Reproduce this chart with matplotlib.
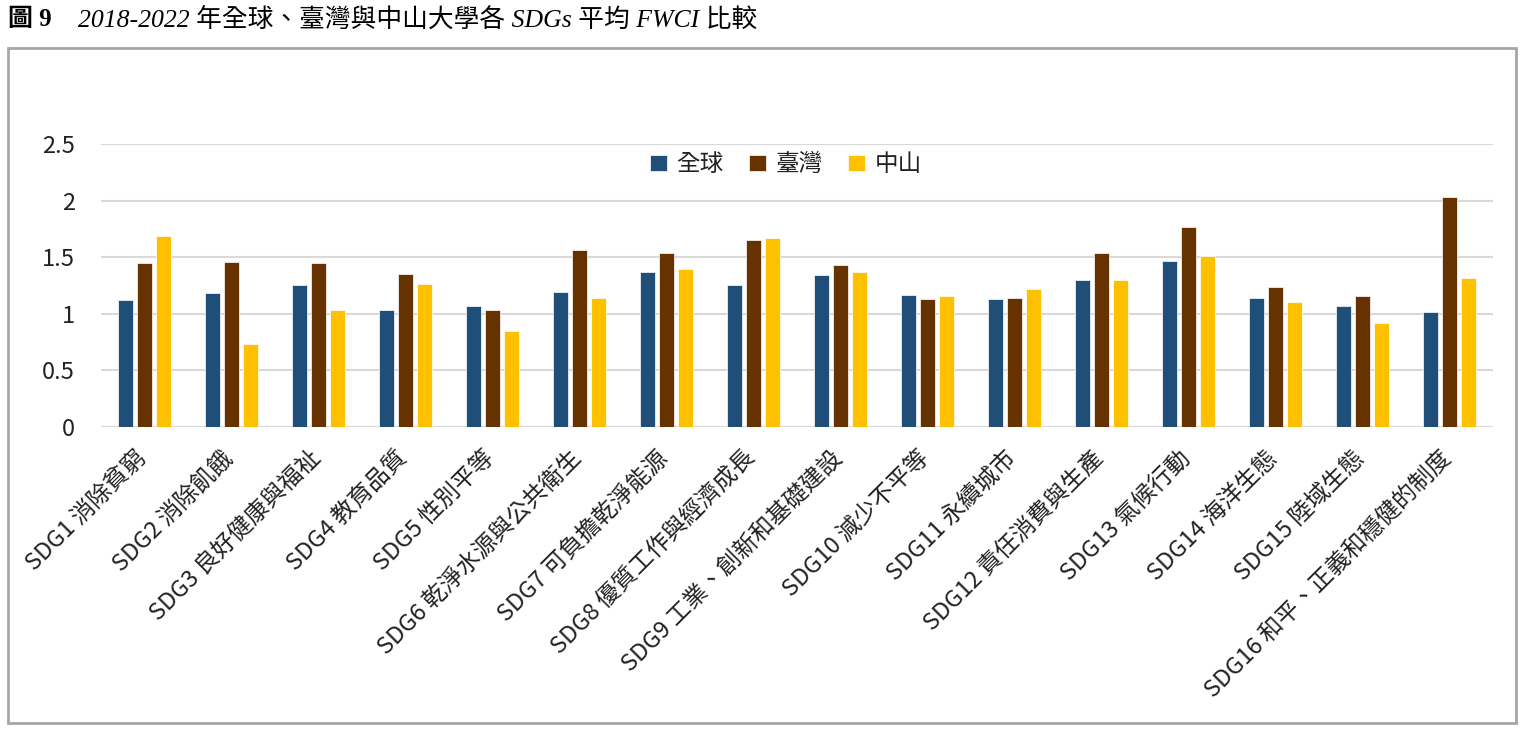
import numpy as np
import matplotlib
matplotlib.use("Agg")
from matplotlib import pyplot as plt
from matplotlib.patches import Rectangle
from matplotlib.transforms import ScaledTranslation

plt.rcParams["font.family"] = ["Noto Sans CJK TC", "DejaVu Sans"]

categories = [
    "SDG1 消除貧窮",
    "SDG2 消除飢餓",
    "SDG3 良好健康與福祉",
    "SDG4 教育品質",
    "SDG5 性別平等",
    "SDG6 乾淨水源與公共衛生",
    "SDG7 可負擔乾淨能源",
    "SDG8 優質工作與經濟成長",
    "SDG9 工業、創新和基礎建設",
    "SDG10 減少不平等",
    "SDG11 永續城市",
    "SDG12 責任消費與生產",
    "SDG13 氣候行動",
    "SDG14 海洋生態",
    "SDG15 陸域生態",
    "SDG16 和平、正義和穩健的制度",
]
series_names = ["全球", "臺灣", "中山"]
world = [1.12, 1.18, 1.25, 1.03, 1.07, 1.19, 1.37, 1.25, 1.34, 1.17, 1.13, 1.30, 1.47, 1.14, 1.07, 1.02]
taiwan = [1.45, 1.46, 1.45, 1.35, 1.03, 1.56, 1.54, 1.65, 1.43, 1.13, 1.14, 1.54, 1.77, 1.24, 1.16, 2.03]
nsysu = [1.69, 0.73, 1.03, 1.26, 0.85, 1.14, 1.40, 1.67, 1.37, 1.16, 1.22, 1.30, 1.51, 1.10, 0.92, 1.32]
yticks = [0, 0.5, 1, 1.5, 2, 2.5]
ytick_labels = ["0", "0.5", "1", "1.5", "2", "2.5"]
title_num = "圖 9"
title_text = "2018-2022 年全球、臺灣與中山大學各 SDGs 平均 FWCI 比較"

colors = ["#1F4E79", "#663300", "#FFC000"]

fig = plt.figure(figsize=(15.24, 7.32), dpi=100)
ax = fig.add_axes([0.0663, 0.4167, 0.9134, 0.3866])

x = np.arange(len(categories))
width = 0.17
step = 0.222
for i, (vals, name) in enumerate(zip([world, taiwan, nsysu], series_names)):
    ax.bar(x + (i - 1) * step, vals, width, color=colors[i], label=name,
           edgecolor="white", linewidth=0.5, zorder=3)

ax.set_xlim(-0.5, len(categories) - 0.5)
ax.set_ylim(0, 2.5)
ax.set_yticks(yticks)
ax.set_yticklabels(ytick_labels, fontsize=17, color="#222222")
ax.yaxis.grid(True, color="#D9D9D9", linewidth=1.5, zorder=0)
ax.set_axisbelow(True)
for s in ["top", "right", "left", "bottom"]:
    ax.spines[s].set_visible(False)
ax.tick_params(axis="y", length=0, pad=19)
ax.tick_params(axis="x", length=0, pad=14)
ax.set_xticks(x)
ax.set_xticklabels(categories, rotation=45, ha="right", va="top",
                   rotation_mode="anchor", fontsize=17, color="#222222")
# nudge the slanted labels so they end under the group like the original
shift = ScaledTranslation(-0.10, 0, fig.dpi_scale_trans)
for lab in ax.get_xticklabels():
    lab.set_transform(lab.get_transform() + shift)

ax.legend(loc="center", bbox_to_anchor=(0.492, 0.926), ncol=3, frameon=False,
          fontsize=17, handlelength=0.7, handleheight=0.7, handletextpad=0.4,
          columnspacing=1.1, labelcolor="#222222")

# outer frame
fig.patches.append(Rectangle((8 / 1524, 1 - 723 / 732), 1508 / 1524, 675 / 732,
                             transform=fig.transFigure, fill=False,
                             edgecolor="#A6A6A6", linewidth=2))

fig.text(8 / 1524, 1 - 20 / 732, title_num, fontsize=18, fontweight="bold",
         family=["Liberation Serif", "Noto Sans CJK TC"], va="center", ha="left")
fig.text(78 / 1524, 1 - 20 / 732, title_text, fontsize=18.5, style="italic",
         family=["Liberation Serif", "Noto Sans CJK TC"], va="center", ha="left")

fig.savefig("out.png", dpi=100)
